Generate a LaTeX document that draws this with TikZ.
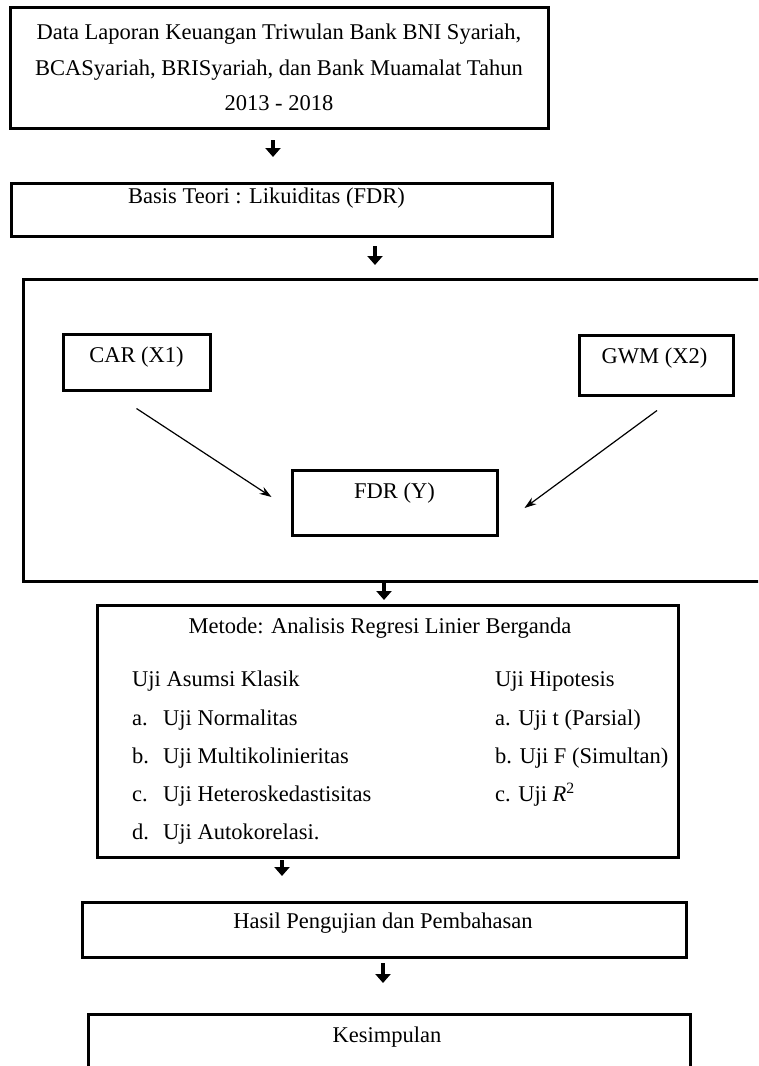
\documentclass[tikz,border=0pt]{standalone}
\usepackage{fontspec}
\setmainfont{Liberation Serif}
\usetikzlibrary{arrows.meta}

\tikzset{
  box/.style={draw, line width=3pt, inner sep=0pt},
  txt/.style={font=\fontsize{22.5}{35.5}\selectfont, inner sep=0pt},
  downarrow/.style={line width=4.5pt, -{Triangle[width=15pt,length=9pt]}},
  link/.style={line width=1.2pt, -{Stealth[length=12pt,width=8pt]}},
}

\begin{document}
\begin{tikzpicture}[x=1pt,y=-1pt]
\useasboundingbox (0,0) rectangle (758,1066);
\fill[white] (0,0) rectangle (758,1066);
\clip (0,0) rectangle (758,1066);
% Data and theory
\node[box, txt, align=center, minimum width=538pt, minimum height=121pt] (data) at (279,67.5)
  {Data Laporan Keuangan Triwulan Bank BNI Syariah,\\BCASyariah, BRISyariah, dan Bank Muamalat Tahun\\2013 - 2018};
\node[box, minimum width=541pt, minimum height=53pt,
  label={[txt, xshift=-15pt, yshift=11pt]center:Basis Teori : Likuiditas (FDR)}] (teori) at (281.5,209.5) {};
% Research model (frame runs past the right edge)
\node[box, minimum width=752pt, minimum height=302pt] (model) at (399,430) {};
\node[box, minimum width=147pt, minimum height=56pt,
  label={[txt, yshift=5pt]center:CAR (X1)}] (car) at (136.5,362) {};
\node[box, minimum width=154pt, minimum height=60pt,
  label={[txt, xshift=-1.5pt, yshift=7pt]center:GWM (X2)}] (gwm) at (656,365) {};
\node[box, minimum width=205pt, minimum height=65pt,
  label={[txt, yshift=9.5pt]center:FDR (Y)}] (fdr) at (394.5,502.5) {};
\coordinate (carout) at ([yshift=-17pt]car.south);
\coordinate (fdrleft) at ([xshift=-19pt, yshift=5.5pt]fdr.west);
\coordinate (gwmout) at ([xshift=1pt, yshift=-14pt]gwm.south);
\coordinate (fdrright) at ([xshift=26pt, yshift=-5.5pt]fdr.east);
\draw[link] (carout) -- (fdrleft);
\draw[link] (gwmout) -- (fdrright);
% Method
\node[box, minimum width=581pt, minimum height=252pt] (metode) at (387.5,731) {};
\node[txt] (judul) at (380,628) {Metode: Analisis Regresi Linier Berganda};
\node[txt, anchor=base west] (klasik) at (132,686) {Uji Asumsi Klasik};
\foreach \lbl/\itm [count=\i] in {a./Uji Normalitas, b./Uji Multikolinieritas,
    c./Uji Heteroskedastisitas, d./Uji Autokorelasi.} {
  \node[txt, anchor=base west] (kl\i) at (132,687+38*\i) {\lbl};
  \node[txt, anchor=base west] (ki\i) at (163,687+38*\i) {\itm};
}
\node[txt, anchor=base west] (hipotesis) at (495,686) {Uji Hipotesis};
\foreach \itm [count=\i] in {a. Uji t (Parsial), b. Uji F (Simultan),
    c. Uji \textit{R}\textsuperscript{2}} {
  \node[txt, anchor=base west] (hi\i) at (495,687+38*\i) {\itm};
}
% Results and conclusion
\node[box, minimum width=604pt, minimum height=55pt,
  label={[txt, xshift=-1pt, yshift=6.5pt]center:Hasil Pengujian dan Pembahasan}] (hasil) at (384,929.5) {};
\node[box, minimum width=602pt, minimum height=66pt,
  label={[txt, xshift=-2pt, yshift=10pt]center:Kesimpulan}] (simpulan) at (389,1047) {};
% Flow arrows between the blocks
\foreach \n/\x/\ya/\yb in {a/273/140/157, b/375/246/265, c/384/583/600,
    d/282/860/876, e/383/963/983} {
  \coordinate (\n top) at (\x,\ya);
  \coordinate (\n tip) at (\x,\yb);
  \draw[downarrow] (\n top) -- (\n tip);
}
\end{tikzpicture}
\end{document}
